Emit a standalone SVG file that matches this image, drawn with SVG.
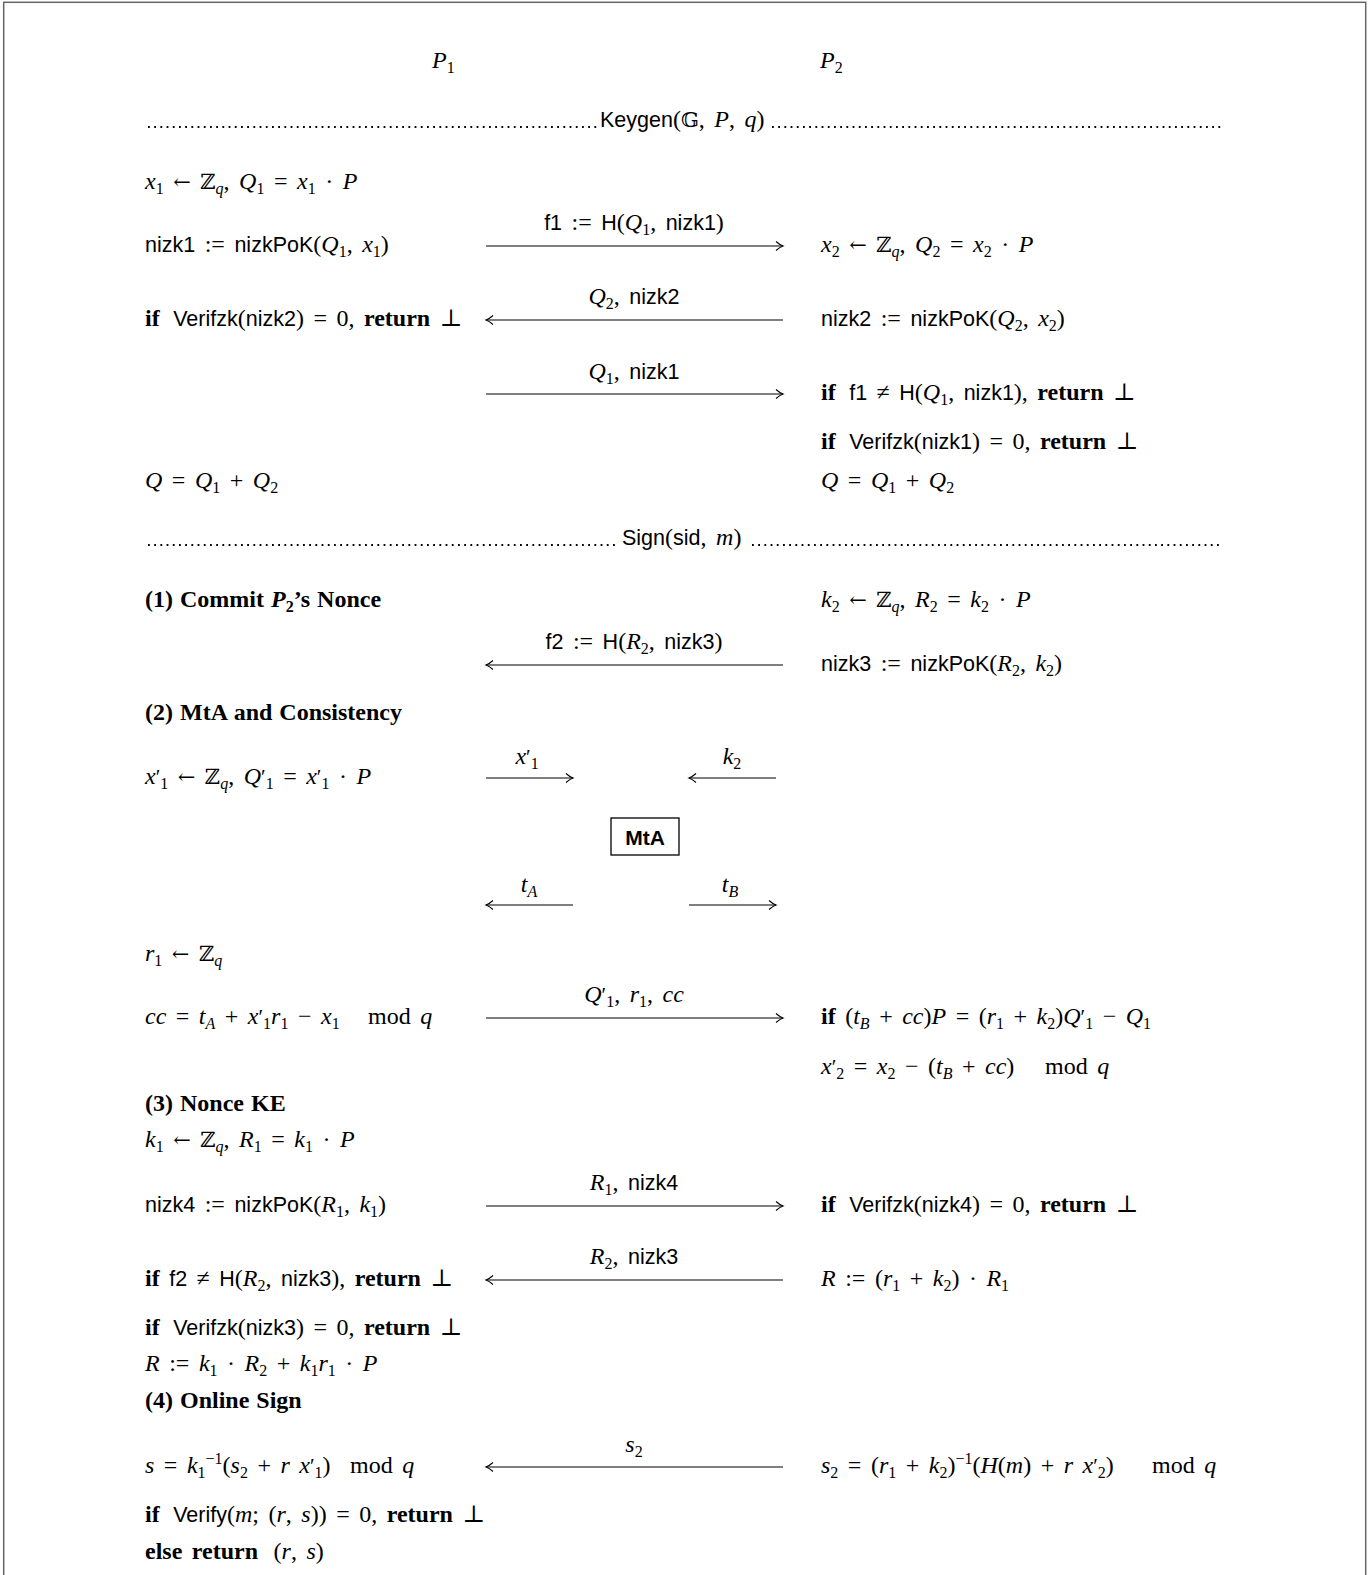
<svg xmlns="http://www.w3.org/2000/svg" width="1371" height="1575" viewBox="0 0 1371 1575">
<style>
text { font-family: "Liberation Serif", "DejaVu Serif", serif; font-size: 24px; fill: #000; word-spacing: 3.5px; }
.h { font-weight: bold; word-spacing: 1px; }
.i { font-style: italic; }
.s { font-family: "Liberation Sans", "DejaVu Sans", sans-serif; font-size: 21.5px; font-style: normal; }
.b { font-weight: bold; }
.sb { font-size: 16px; baseline-shift: -5px; }
.sp { font-size: 16px; baseline-shift: 9px; }
.pr { font-size: 21px; }
.z { font-family: "DejaVu Serif", serif; font-size: 21px; font-style: normal; }
.c { text-anchor: middle; }
.conn line { stroke: #000; stroke-width: 1.1; }
.dots { stroke: #000; stroke-width: 1.8; stroke-dasharray: 1.8 4.4; }
</style>
<defs>
<marker id="ah" viewBox="-9 -6 11 12" refX="0" refY="0" markerWidth="11" markerHeight="12" orient="auto" markerUnits="userSpaceOnUse">
<path d="M-7,-4.5 Q-3,-1 0,0 Q-3,1 -7,4.5" fill="none" stroke="#000" stroke-width="1.1"/>
</marker>
</defs>
<rect x="3.7" y="2.3" width="1362" height="1600" fill="#fff" stroke="#666" stroke-width="1.5"/>

<g id="headers">
<text x="432" y="68"><tspan class="i">P</tspan><tspan class="sb">1</tspan></text>
<text x="820" y="68"><tspan class="i">P</tspan><tspan class="sb">2</tspan></text>
</g>

<g id="keygen-sep">
<line class="dots" x1="148" y1="127" x2="597" y2="127"/>
<line class="dots" x1="772" y1="127" x2="1222" y2="127"/>
<text x="600" y="127"><tspan class="s">Keygen</tspan>(<tspan class="z">𝔾</tspan>, <tspan class="i">P</tspan>, <tspan class="i">q</tspan>)</text>
</g>

<g id="p1-keygen">
<text x="145" y="189"><tspan class="i">x</tspan><tspan class="sb">1</tspan> <tspan class="z">←</tspan> <tspan class="z">ℤ</tspan><tspan class="sb i">q</tspan>, <tspan class="i">Q</tspan><tspan class="sb">1</tspan> = <tspan class="i">x</tspan><tspan class="sb">1</tspan> · <tspan class="i">P</tspan></text>
<text x="145" y="252"><tspan class="s">nizk1</tspan> := <tspan class="s">nizkPoK</tspan>(<tspan class="i">Q</tspan><tspan class="sb">1</tspan>, <tspan class="i">x</tspan><tspan class="sb">1</tspan>)</text>
<text x="145" y="326"><tspan class="b">if</tspan> <tspan class="s" dx="4">Verifzk</tspan>(<tspan class="s">nizk2</tspan>) = 0, <tspan class="b">return</tspan> ⊥</text>
<text x="145" y="488"><tspan class="i">Q</tspan> = <tspan class="i">Q</tspan><tspan class="sb">1</tspan> + <tspan class="i">Q</tspan><tspan class="sb">2</tspan></text>
</g>

<g id="p2-keygen">
<text x="821" y="252"><tspan class="i">x</tspan><tspan class="sb">2</tspan> <tspan class="z">←</tspan> <tspan class="z">ℤ</tspan><tspan class="sb i">q</tspan>, <tspan class="i">Q</tspan><tspan class="sb">2</tspan> = <tspan class="i">x</tspan><tspan class="sb">2</tspan> · <tspan class="i">P</tspan></text>
<text x="821" y="326"><tspan class="s">nizk2</tspan> := <tspan class="s">nizkPoK</tspan>(<tspan class="i">Q</tspan><tspan class="sb">2</tspan>, <tspan class="i">x</tspan><tspan class="sb">2</tspan>)</text>
<text x="821" y="400"><tspan class="b">if</tspan> <tspan class="s" dx="4">f1</tspan> ≠ <tspan class="s">H</tspan>(<tspan class="i">Q</tspan><tspan class="sb">1</tspan>, <tspan class="s">nizk1</tspan>), <tspan class="b">return</tspan> ⊥</text>
<text x="821" y="449"><tspan class="b">if</tspan> <tspan class="s" dx="4">Verifzk</tspan>(<tspan class="s">nizk1</tspan>) = 0, <tspan class="b">return</tspan> ⊥</text>
<text x="821" y="488"><tspan class="i">Q</tspan> = <tspan class="i">Q</tspan><tspan class="sb">1</tspan> + <tspan class="i">Q</tspan><tspan class="sb">2</tspan></text>
</g>

<g id="sign-sep">
<line class="dots" x1="148" y1="545" x2="617" y2="545"/>
<line class="dots" x1="752" y1="545" x2="1222" y2="545"/>
<text x="622" y="545"><tspan class="s">Sign</tspan>(<tspan class="s">sid</tspan>, <tspan class="i">m</tspan>)</text>
</g>

<g id="step1">
<text x="145" y="607" class="h">(1) Commit <tspan class="i">P</tspan><tspan class="sb">2</tspan>’s Nonce</text>
<text x="821" y="607"><tspan class="i">k</tspan><tspan class="sb">2</tspan> <tspan class="z">←</tspan> <tspan class="z">ℤ</tspan><tspan class="sb i">q</tspan>, <tspan class="i">R</tspan><tspan class="sb">2</tspan> = <tspan class="i">k</tspan><tspan class="sb">2</tspan> · <tspan class="i">P</tspan></text>
<text x="821" y="671"><tspan class="s">nizk3</tspan> := <tspan class="s">nizkPoK</tspan>(<tspan class="i">R</tspan><tspan class="sb">2</tspan>, <tspan class="i">k</tspan><tspan class="sb">2</tspan>)</text>
</g>

<g id="step2">
<text x="145" y="720" class="h">(2) MtA and Consistency</text>
<text x="145" y="784"><tspan class="i">x</tspan><tspan class="pr">′</tspan><tspan class="sb">1</tspan> <tspan class="z">←</tspan> <tspan class="z">ℤ</tspan><tspan class="sb i">q</tspan>, <tspan class="i">Q</tspan><tspan class="pr">′</tspan><tspan class="sb">1</tspan> = <tspan class="i">x</tspan><tspan class="pr">′</tspan><tspan class="sb">1</tspan> · <tspan class="i">P</tspan></text>
<text x="145" y="961"><tspan class="i">r</tspan><tspan class="sb">1</tspan> <tspan class="z">←</tspan> <tspan class="z">ℤ</tspan><tspan class="sb i">q</tspan></text>
<text x="145" y="1024"><tspan class="i">cc</tspan> = <tspan class="i">t</tspan><tspan class="sb i">A</tspan> + <tspan class="i">x</tspan><tspan class="pr">′</tspan><tspan class="sb">1</tspan><tspan class="i">r</tspan><tspan class="sb">1</tspan> − <tspan class="i">x</tspan><tspan class="sb">1</tspan></text>
<text x="368" y="1024">mod <tspan class="i">q</tspan></text>
<text x="821" y="1024"><tspan class="b">if</tspan> (<tspan class="i">t</tspan><tspan class="sb i">B</tspan> + <tspan class="i">cc</tspan>)<tspan class="i">P</tspan> = (<tspan class="i">r</tspan><tspan class="sb">1</tspan> + <tspan class="i">k</tspan><tspan class="sb">2</tspan>)<tspan class="i">Q</tspan><tspan class="pr">′</tspan><tspan class="sb">1</tspan> − <tspan class="i">Q</tspan><tspan class="sb">1</tspan></text>
<text x="821" y="1074"><tspan class="i">x</tspan><tspan class="pr">′</tspan><tspan class="sb">2</tspan> = <tspan class="i">x</tspan><tspan class="sb">2</tspan> − (<tspan class="i">t</tspan><tspan class="sb i">B</tspan> + <tspan class="i">cc</tspan>)</text>
<text x="1045" y="1074">mod <tspan class="i">q</tspan></text>
</g>

<g id="mta">
<rect x="611" y="818" width="68" height="37" fill="none" stroke="#000" stroke-width="1.3"/>
<text x="645" y="845" class="c"><tspan class="s b" style="font-size:21px">MtA</tspan></text>
</g>

<g id="step3">
<text x="145" y="1111" class="h">(3) Nonce KE</text>
<text x="145" y="1147"><tspan class="i">k</tspan><tspan class="sb">1</tspan> <tspan class="z">←</tspan> <tspan class="z">ℤ</tspan><tspan class="sb i">q</tspan>, <tspan class="i">R</tspan><tspan class="sb">1</tspan> = <tspan class="i">k</tspan><tspan class="sb">1</tspan> · <tspan class="i">P</tspan></text>
<text x="145" y="1212"><tspan class="s">nizk4</tspan> := <tspan class="s">nizkPoK</tspan>(<tspan class="i">R</tspan><tspan class="sb">1</tspan>, <tspan class="i">k</tspan><tspan class="sb">1</tspan>)</text>
<text x="821" y="1212"><tspan class="b">if</tspan> <tspan class="s" dx="4">Verifzk</tspan>(<tspan class="s">nizk4</tspan>) = 0, <tspan class="b">return</tspan> ⊥</text>
<text x="145" y="1286"><tspan class="b">if</tspan> <tspan class="s">f2</tspan> ≠ <tspan class="s">H</tspan>(<tspan class="i">R</tspan><tspan class="sb">2</tspan>, <tspan class="s">nizk3</tspan>), <tspan class="b">return</tspan> ⊥</text>
<text x="821" y="1286"><tspan class="i">R</tspan> := (<tspan class="i">r</tspan><tspan class="sb">1</tspan> + <tspan class="i">k</tspan><tspan class="sb">2</tspan>) · <tspan class="i">R</tspan><tspan class="sb">1</tspan></text>
<text x="145" y="1335"><tspan class="b">if</tspan> <tspan class="s" dx="4">Verifzk</tspan>(<tspan class="s">nizk3</tspan>) = 0, <tspan class="b">return</tspan> ⊥</text>
<text x="145" y="1371"><tspan class="i">R</tspan> := <tspan class="i">k</tspan><tspan class="sb">1</tspan> · <tspan class="i">R</tspan><tspan class="sb">2</tspan> + <tspan class="i">k</tspan><tspan class="sb">1</tspan><tspan class="i">r</tspan><tspan class="sb">1</tspan> · <tspan class="i">P</tspan></text>
</g>

<g id="step4">
<text x="145" y="1408" class="h">(4) Online Sign</text>
<text x="145" y="1473"><tspan class="i">s</tspan> = <tspan class="i">k</tspan><tspan class="sb">1</tspan><tspan class="sp">−1</tspan>(<tspan class="i">s</tspan><tspan class="sb">2</tspan> + <tspan class="i">r x</tspan><tspan class="pr">′</tspan><tspan class="sb">1</tspan>)</text>
<text x="350" y="1473">mod <tspan class="i">q</tspan></text>
<text x="821" y="1473"><tspan class="i">s</tspan><tspan class="sb">2</tspan> = (<tspan class="i">r</tspan><tspan class="sb">1</tspan> + <tspan class="i">k</tspan><tspan class="sb">2</tspan>)<tspan class="sp">−1</tspan>(<tspan class="i">H</tspan>(<tspan class="i">m</tspan>) + <tspan class="i">r x</tspan><tspan class="pr">′</tspan><tspan class="sb">2</tspan>)</text>
<text x="1152" y="1473">mod <tspan class="i">q</tspan></text>
<text x="145" y="1522"><tspan class="b">if</tspan> <tspan class="s" dx="4">Verify</tspan>(<tspan class="i">m</tspan>; (<tspan class="i">r</tspan>, <tspan class="i">s</tspan>)) = 0, <tspan class="b">return</tspan> ⊥</text>
<text x="145" y="1559"><tspan class="b">else return</tspan> <tspan dx="6">(</tspan><tspan class="i">r</tspan>, <tspan class="i">s</tspan>)</text>
</g>

<g id="connectors" class="conn">
<line x1="486" y1="246" x2="783" y2="246" marker-end="url(#ah)"/>
<text x="634" y="230" class="c"><tspan class="s">f1</tspan> := <tspan class="s">H</tspan>(<tspan class="i">Q</tspan><tspan class="sb">1</tspan>, <tspan class="s">nizk1</tspan>)</text>
<line x1="783" y1="320" x2="486" y2="320" marker-end="url(#ah)"/>
<text x="634" y="304" class="c"><tspan class="i">Q</tspan><tspan class="sb">2</tspan>, <tspan class="s">nizk2</tspan></text>
<line x1="486" y1="394" x2="783" y2="394" marker-end="url(#ah)"/>
<text x="634" y="379" class="c"><tspan class="i">Q</tspan><tspan class="sb">1</tspan>, <tspan class="s">nizk1</tspan></text>
<line x1="783" y1="665" x2="486" y2="665" marker-end="url(#ah)"/>
<text x="634" y="649" class="c"><tspan class="s">f2</tspan> := <tspan class="s">H</tspan>(<tspan class="i">R</tspan><tspan class="sb">2</tspan>, <tspan class="s">nizk3</tspan>)</text>
<line x1="486" y1="778" x2="573" y2="778" marker-end="url(#ah)"/>
<text x="527" y="764" class="c"><tspan class="i">x</tspan><tspan class="pr">′</tspan><tspan class="sb">1</tspan></text>
<line x1="776" y1="778" x2="689" y2="778" marker-end="url(#ah)"/>
<text x="732" y="764" class="c"><tspan class="i">k</tspan><tspan class="sb">2</tspan></text>
<line x1="573" y1="905" x2="486" y2="905" marker-end="url(#ah)"/>
<text x="529" y="892" class="c"><tspan class="i">t</tspan><tspan class="sb i">A</tspan></text>
<line x1="689" y1="905" x2="776" y2="905" marker-end="url(#ah)"/>
<text x="730" y="892" class="c"><tspan class="i">t</tspan><tspan class="sb i">B</tspan></text>
<line x1="486" y1="1018" x2="783" y2="1018" marker-end="url(#ah)"/>
<text x="634" y="1002" class="c"><tspan class="i">Q</tspan><tspan class="pr">′</tspan><tspan class="sb">1</tspan>, <tspan class="i">r</tspan><tspan class="sb">1</tspan>, <tspan class="i">cc</tspan></text>
<line x1="486" y1="1206" x2="783" y2="1206" marker-end="url(#ah)"/>
<text x="634" y="1190" class="c"><tspan class="i">R</tspan><tspan class="sb">1</tspan>, <tspan class="s">nizk4</tspan></text>
<line x1="783" y1="1280" x2="486" y2="1280" marker-end="url(#ah)"/>
<text x="634" y="1264" class="c"><tspan class="i">R</tspan><tspan class="sb">2</tspan>, <tspan class="s">nizk3</tspan></text>
<line x1="783" y1="1467" x2="486" y2="1467" marker-end="url(#ah)"/>
<text x="634" y="1452" class="c"><tspan class="i">s</tspan><tspan class="sb">2</tspan></text>
</g>
</svg>
